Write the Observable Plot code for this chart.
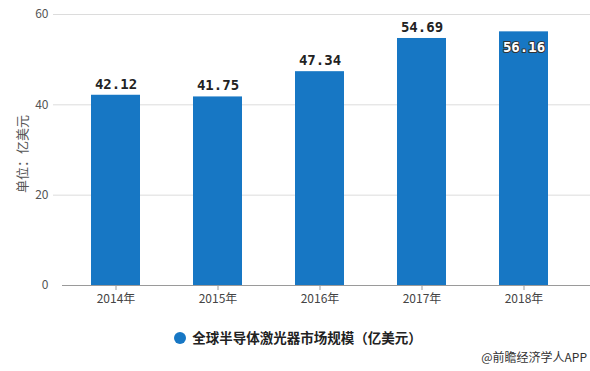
<!DOCTYPE html>
<html><head><meta charset="utf-8">
<script src="https://cdn.jsdelivr.net/npm/d3@7"></script>
<script src="https://cdn.jsdelivr.net/npm/@observablehq/plot@0.6"></script>
<style>
body{margin:0;background:#fff;font-family:"Noto Sans CJK SC","Noto Sans",sans-serif;}
#wrap{position:relative;width:590px;height:371px;overflow:hidden;}
#legend{position:absolute;left:3px;width:590px;top:327px;text-align:center;font-size:13.5px;font-weight:bold;color:#222;}
#legend .dot{display:inline-block;width:12px;height:12px;border-radius:50%;background:#1777c4;vertical-align:-1px;margin-right:6px;}
#caption{position:absolute;right:3px;top:348px;font-size:12px;color:#333;}
</style></head>
<body><div id="wrap"><div id="chart"></div>
<div id="legend"><span class="dot"></span>全球半导体激光器市场规模（亿美元）</div>
<div id="caption">@前瞻经济学人APP</div></div>
<script>
const years = ["2014年","2015年","2016年","2017年","2018年"];
const values = [42.12, 41.75, 47.34, 54.69, 56.16];
const yTicks = [0, 20, 40, 60];
const yLabel = "单位：亿美元";
const data = years.map((y, i) => ({year: y, value: values[i]}));
const blue = "#1777c4";
const inside = data.filter(d => d.year === "2018年");
const outside = data.filter(d => d.year !== "2018年");

const chart = Plot.plot({
  width: 590, height: 318,
  marginTop: 14, marginBottom: 33, marginLeft: 62, marginRight: 14,
  style: {fontFamily: "'Noto Sans CJK SC', 'Noto Sans', sans-serif", background: "#fff"},
  x: {domain: years, paddingInner: 0.52, paddingOuter: 0.26, label: null},
  y: {domain: [0, 60], label: null},
  marks: [
    Plot.ruleY(yTicks.filter(t => t > 0), {stroke: "#dcdcdc", insetLeft: -9, insetRight: -14}),
    Plot.barY(data, {x: "year", y: "value", fill: blue}),
    Plot.ruleY([0], {stroke: "#9a9a9a", insetRight: -14}),
    Plot.axisX({tickSize: 5, tickPadding: 4, fontSize: 12, stroke: "#9a9a9a", color: "#444"}),
    Plot.axisY({ticks: yTicks, tickSize: 0, tickPadding: 14, fontSize: 12, color: "#555", label: null}),
    Plot.text([yLabel], {frameAnchor: "left", textAnchor: "middle", dx: -40, dy: 4, rotate: -90, fontSize: 13, fill: "#555"}),
    Plot.text(outside, {x: "year", y: "value", text: d => d.value.toFixed(2), dy: -11, fontSize: 14, fontWeight: "bold", fontFamily: "'DejaVu Sans Mono', monospace", fill: "#222"}),
    Plot.text(inside, {x: "year", y: "value", text: d => d.value.toFixed(2), dy: 16, fontSize: 14, fontWeight: "bold", fontFamily: "'DejaVu Sans Mono', monospace", fill: "#fff", stroke: "#333", strokeWidth: 2, paintOrder: "stroke"})
  ]
});
document.getElementById("chart").appendChild(chart);
</script></body></html>
